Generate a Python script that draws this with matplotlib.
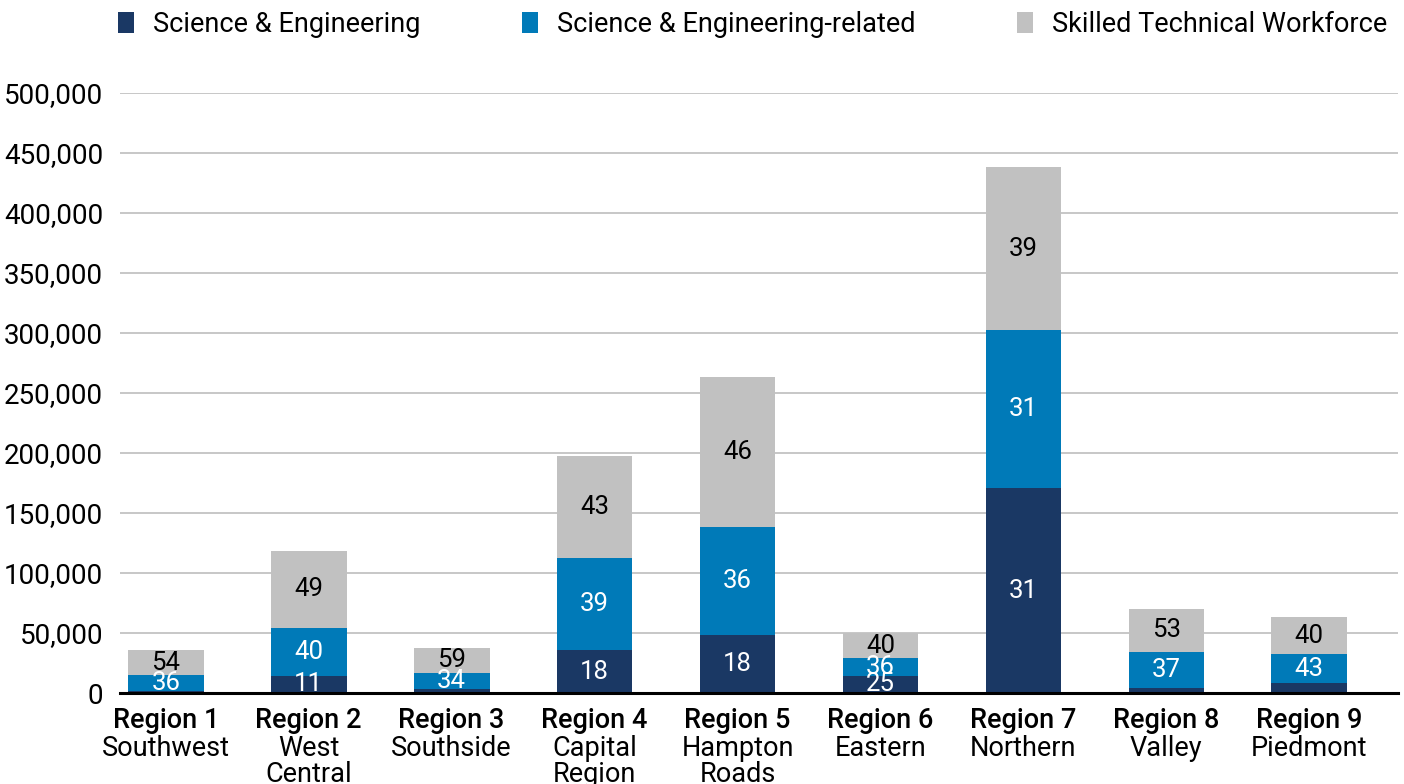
import numpy as np
import matplotlib
matplotlib.use('Agg')
import matplotlib.pyplot as plt
from matplotlib.ticker import FuncFormatter

plt.rcParams['font.family'] = ['Roboto', 'DejaVu Sans']

regions = ['Region 1', 'Region 2', 'Region 3', 'Region 4', 'Region 5',
           'Region 6', 'Region 7', 'Region 8', 'Region 9']
names = ['Southwest', 'West\nCentral', 'Southside', 'Capital\nRegion', 'Hampton\nRoads',
         'Eastern', 'Northern', 'Valley', 'Piedmont']

se = [1900, 14200, 3300, 35800, 48300, 14200, 170800, 4200, 8300]
se_related = [13100, 40000, 13600, 76700, 90000, 15000, 131700, 30000, 24200]
skilled = [20800, 64100, 20600, 85000, 125000, 20500, 135800, 35800, 30800]

# numbers printed inside the segments (None = no label)
se_lbl = [None, 11, None, 18, 18, 25, 31, None, None]
ser_lbl = [36, 40, 34, 39, 36, 36, 31, 37, 43]
stw_lbl = [54, 49, 59, 43, 46, 40, 39, 53, 40]

series = ['Science & Engineering', 'Science & Engineering-related', 'Skilled Technical Workforce']
colors = ['#1a3864', '#007ab8', '#c1c1c1']
text_colors = ['white', 'white', 'black']

fig = plt.figure(figsize=(14.04, 7.84), dpi=100)
ax = fig.add_axes([120 / 1404, 91 / 784, 1278 / 1404, 600 / 784])

x = np.arange(len(regions))
width = 0.53
bottom = np.zeros(len(regions))
for vals, lbls, col, tcol, name in zip([se, se_related, skilled],
                                       [se_lbl, ser_lbl, stw_lbl],
                                       colors, text_colors, series):
    vals = np.array(vals, dtype=float)
    ax.bar(x, vals, width, bottom=bottom, color=col, label=name, zorder=2)
    for i in range(len(regions)):
        if lbls[i] is not None:
            ax.text(x[i], bottom[i] + vals[i] / 2, str(lbls[i]), ha='center', va='center',
                    fontsize=18.5, color=tcol, zorder=3)
    bottom += vals

ax.set_ylim(0, 500000)
ax.set_xlim(-0.32, 8.62)
ax.set_yticks(np.arange(0, 500001, 50000))
ax.yaxis.set_major_formatter(FuncFormatter(lambda v, p: f'{int(v):,}'))
ax.tick_params(axis='y', length=0, pad=12, labelsize=20)
ax.grid(axis='y', color='#bdbdbd', linewidth=1.2, zorder=0)
ax.set_axisbelow(True)

for s in ['top', 'right', 'left']:
    ax.spines[s].set_visible(False)
ax.spines['bottom'].set_color('black')
ax.spines['bottom'].set_linewidth(2.2)
ax.spines['bottom'].set_zorder(4)

ax.set_xticks(x)
ax.set_xticklabels(regions, fontsize=19.5, fontweight='medium')
ax.tick_params(axis='x', length=0, pad=10)
for i, nm in enumerate(names):
    ax.annotate(nm, xy=(x[i], 0), xycoords=('data', 'axes fraction'),
                xytext=(0, -30), textcoords='offset points',
                ha='center', va='top', fontsize=19.5, linespacing=0.95)

fig.legend(loc='center', bbox_to_anchor=(0.536, 0.969), ncol=3, frameon=False,
           fontsize=19.5, handlelength=0.6, handleheight=0.8, handletextpad=0.7,
           columnspacing=3.75)

fig.savefig('out.png', dpi=100)
